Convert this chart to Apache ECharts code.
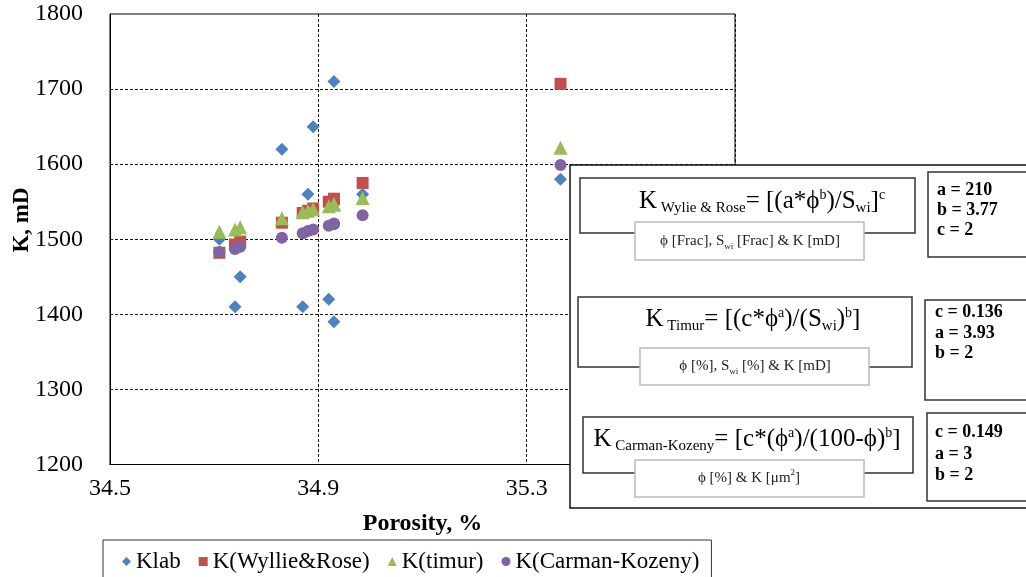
<!DOCTYPE html>
<html>
<head>
<meta charset="utf-8">
<script src="https://cdn.jsdelivr.net/npm/echarts@6/dist/echarts.min.js"></script>
<style>
html,body{margin:0;padding:0;background:#fff;}
#chart{width:1026px;height:577px;}
</style>
</head>
<body>
<div id="chart"></div>
<script>
// ---- data ----
const porosity   = [34.71, 34.74, 34.75, 34.83, 34.87, 34.88, 34.89, 34.92, 34.93, 34.93, 34.985, 35.365];
const kLab       = [1500, 1410, 1450, 1620, 1410, 1560, 1650, 1420, 1390, 1710, 1560, 1580];
const kWyllie    = [1482, 1493, 1497, 1522, 1535, 1538, 1541, 1550, 1553, 1554, 1575, 1707];
const kTimur     = [1510, 1513, 1516, 1528, 1536, 1538, 1540, 1544, 1546, 1547, 1555, 1622];
const kCarman    = [1483, 1487, 1490, 1502, 1508, 1511, 1513, 1518, 1520, 1521, 1532, 1599];
const seriesNames = ['Klab', 'K(Wyllie&Rose)', 'K(timur)', 'K(Carman-Kozeny)'];
const xTicks = [34.5, 34.9, 35.3, 35.7];
const yTicks = [1200, 1300, 1400, 1500, 1600, 1700, 1800];
const xTitle = 'Porosity, %';
const yTitle = 'K, mD';

// ---- chart ----
const SERIF = '"Liberation Serif", "DejaVu Serif", serif';
const colors = ['#4F81BD', '#C0504D', '#9BBB59', '#8064A2'];
const symbols = ['diamond', 'rect', 'triangle', 'circle'];
const sizes = [13, 12, 14, 12];
const values = [kLab, kWyllie, kTimur, kCarman];

const chart = echarts.init(document.getElementById('chart'), null, {renderer: 'canvas'});

function rect(x1, y1, x2, y2, stroke, lw) {
  return {type: 'rect', z: 100, shape: {x: x1, y: y1, width: x2 - x1, height: y2 - y1},
    style: {fill: '#fff', stroke: stroke, lineWidth: lw}};
}
function txt(x, y, text, font, extra) {
  const st = Object.assign({text: text, font: font, fill: '#000', textAlign: 'center', textVerticalAlign: 'middle',
    align: 'center', verticalAlign: 'middle'}, extra || {});
  return {type: 'text', z: 101, x: x, y: y, style: st};
}
const richF = {
  m: {fontFamily: SERIF, fontSize: 25, lineHeight: 30, verticalAlign: 'middle', fill: '#000'},
  s: {fontFamily: SERIF, fontSize: 15, lineHeight: 15, verticalAlign: 'bottom', fill: '#000'},
  p: {fontFamily: SERIF, fontSize: 14, lineHeight: 14, verticalAlign: 'top', fill: '#000', padding: [2, 0, 0, 0]}
};
const richS = {
  m: {fontFamily: SERIF, fontSize: 15, lineHeight: 20, verticalAlign: 'middle', fill: '#222'},
  s: {fontFamily: SERIF, fontSize: 9, lineHeight: 9, verticalAlign: 'bottom', fill: '#222'},
  p: {fontFamily: SERIF, fontSize: 9, lineHeight: 9, verticalAlign: 'top', fill: '#222'}
};
const PF = 'bold 18px ' + SERIF;

const graphics = [
  // axis titles
  {type: 'text', z: 50, x: 22, y: 220, rotation: Math.PI / 2,
   style: {text: yTitle, font: 'bold 23px ' + SERIF, fill: '#000', textAlign: 'center', textVerticalAlign: 'middle', align: 'center', verticalAlign: 'middle'}},
  // inset box
  rect(570, 165, 1040, 508, '#111', 1.5),
  rect(580, 178, 915, 233, '#333', 1.5),
  rect(635, 222, 864, 260, '#bbb', 1.5),
  rect(928, 172, 1040, 257, '#333', 1.5),
  rect(578, 297, 912, 367, '#333', 1.5),
  rect(640, 348, 869, 385, '#bbb', 1.5),
  rect(925, 300, 1040, 400, '#333', 1.5),
  rect(583, 417, 913, 473, '#333', 1.5),
  rect(635, 460, 864, 497, '#bbb', 1.5),
  rect(927, 413, 1040, 501, '#333', 1.5),
  txt(762, 201, '{m|K}{s| Wylie & Rose}{m|= [(a*ϕ}{p|b}{m|)/S}{s|wi}{m|]}{p|c}', null, {rich: richF}),
  txt(750, 241, '{m|ϕ [Frac], S}{s|wi}{m| [Frac] & K [mD]}', null, {rich: richS}),
  txt(753, 319, '{m|K}{s| Timur}{m|= [(c*ϕ}{p|a}{m|)/(S}{s|wi}{m|)}{p|b}{m|]}', null, {rich: richF}),
  txt(755, 366, '{m|ϕ [%], S}{s|wi}{m| [%] & K [mD]}', null, {rich: richS}),
  txt(747, 439, '{m|K}{s| Carman-Kozeny}{m|= [c*(ϕ}{p|a}{m|)/(100-ϕ)}{p|b}{m|]}', null, {rich: richF}),
  txt(749, 478, '{m|ϕ [%] & K [μm}{p|2}{m|]}', null, {rich: richS}),
  txt(937, 190, 'a = 210', PF, {textAlign: 'left', align: 'left'}),
  txt(937, 210, 'b = 3.77', PF, {textAlign: 'left', align: 'left'}),
  txt(937, 230, 'c = 2', PF, {textAlign: 'left', align: 'left'}),
  txt(935, 312, 'c = 0.136', PF, {textAlign: 'left', align: 'left'}),
  txt(935, 333, 'a = 3.93', PF, {textAlign: 'left', align: 'left'}),
  txt(935, 353, 'b = 2', PF, {textAlign: 'left', align: 'left'}),
  txt(935, 432, 'c = 0.149', PF, {textAlign: 'left', align: 'left'}),
  txt(935, 454, 'a = 3', PF, {textAlign: 'left', align: 'left'}),
  txt(935, 475, 'b = 2', PF, {textAlign: 'left', align: 'left'})
];

const option = {
  animation: false,
  backgroundColor: '#fff',
  color: colors,
  grid: {left: 110, right: 291, top: 14, bottom: 112.5, show: true, borderColor: '#000', borderWidth: 1, backgroundColor: 'transparent'},
  xAxis: {
    type: 'value', min: xTicks[0], max: xTicks[xTicks.length - 1], interval: xTicks[1] - xTicks[0],
    name: xTitle, nameLocation: 'middle', nameGap: 47,
    nameTextStyle: {fontFamily: SERIF, fontWeight: 'bold', fontSize: 24, color: '#000'},
    axisLine: {show: true, onZero: false, lineStyle: {color: '#000', width: 1}},
    axisTick: {show: false},
    axisLabel: {margin: 12, fontFamily: SERIF, fontSize: 24, color: '#000', formatter: v => v.toFixed(1)},
    splitLine: {show: true, showMinLine: false, showMaxLine: false, lineStyle: {color: '#111', type: [3, 2], width: 1}}
  },
  yAxis: {
    type: 'value', min: yTicks[0], max: yTicks[yTicks.length - 1], interval: yTicks[1] - yTicks[0],
    axisLine: {show: true, onZero: false, lineStyle: {color: '#000', width: 1}},
    axisTick: {show: false},
    axisLabel: {margin: 27, fontFamily: SERIF, fontSize: 24, color: '#000', formatter: v => String(v)},
    splitLine: {show: true, showMinLine: false, showMaxLine: false, lineStyle: {color: '#111', type: [3, 2], width: 1}}
  },
  legend: {
    show: true, left: 103, top: 540, orient: 'horizontal',
    data: seriesNames,
    itemWidth: 9, itemHeight: 9, itemGap: 18,
    padding: [10, 12, 10, 19],
    borderColor: '#333', borderWidth: 1,
    textStyle: {fontFamily: SERIF, fontSize: 23, color: '#000', padding: [0, 0, 0, 0]}
  },
  series: seriesNames.map((n, i) => ({
    name: n, type: 'scatter', symbol: symbols[i], symbolSize: sizes[i],
    itemStyle: {color: colors[i], opacity: 1},
    data: porosity.map((p, j) => [p, values[i][j]])
  })),
  graphic: graphics
};
chart.setOption(option);
</script>
</body>
</html>
